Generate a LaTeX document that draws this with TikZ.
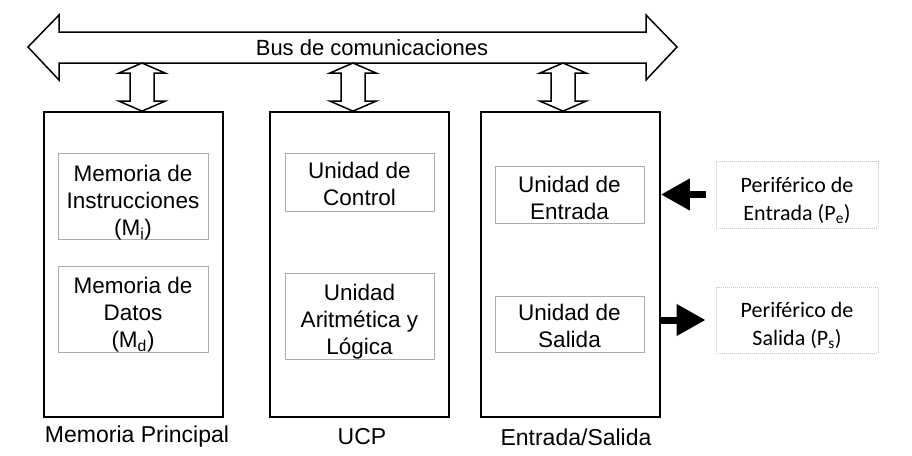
\documentclass[tikz,border=0pt]{standalone}
\usepackage{fontspec}
\setmainfont{Liberation Sans}
\newfontfamily\calib{Carlito}
\usetikzlibrary{arrows.meta,calc}
\begin{document}
\begin{tikzpicture}[x=1pt,y=-1pt,
 txt/.style={font=\fontsize{22.5}{27}\selectfont, align=center},
 lbl/.style={font=\fontsize{23}{27}\selectfont},
 mainbox/.style={draw, line width=1.7pt, minimum width=179pt, minimum height=305pt, inner sep=0pt},
 inbox/.style={draw=gray!65, line width=0.8pt, txt, inner xsep=0pt, inner ysep=0pt},
 perbox/.style={draw=gray!45, line width=0.8pt, dash pattern=on 1pt off 1pt, font=\calib\fontsize{22}{28}\selectfont, align=center, inner xsep=0pt, inner ysep=0pt, minimum width=162pt},
 vconn/.style={draw, line width=1.5pt, fill=white, line join=miter},
 bigarrow/.style={line width=7pt, -{Triangle[length=29pt,width=30pt]}}
]
\useasboundingbox (0,0) rectangle (912,455);
% bus
\draw[line width=1.5pt, line join=miter] (28,47) -- (59,15) -- (59,32) -- (646,32) -- (646,15) -- (677,47) -- (646,80) -- (646,63) -- (59,63) -- (59,80) -- cycle;
\node[font=\fontsize{22}{27}\selectfont] (bus) at (372,48) {Bus de comunicaciones};
% main boxes
\node[mainbox] (mp) at (133.5,264.5) {};
\node[mainbox] (ucp) at (359.5,264.5) {};
\node[mainbox] (es) at (570.5,264.5) {};
\node[lbl] (lmp) at (137,437) {Memoria Principal};
\node[lbl] (lucp) at (362,437) {UCP};
\node[lbl] (les) at (576,437) {Entrada/Salida};
% bus connectors
\coordinate (b1) at (142,63);
\coordinate (b2) at (353,63);
\coordinate (b3) at (563,63);
\foreach \b/\m in {b1/mp,b2/ucp,b3/es}{
 \draw[vconn] (\b) -- ++(23,10) -- ++(-11,0) -- ($(\b|-\m.north)+(12,-10)$) -- ++(11,0) -- (\b|-\m.north) -- ++(-23,-10) -- ++(11,0) -- ($(\b)+(-12,10)$) -- ++(-11,0) -- cycle;
}
% inner boxes
\node[inbox, minimum width=150pt, text height=82pt, text depth=4pt] (mi) at (133,196) {Memoria de\\Instrucciones\\(M\textsubscript{i})};
\node[inbox, minimum width=150pt, text height=81pt, text depth=5pt] (md) at (133,309) {Memoria de\\Datos\\(M\textsubscript{d})};
\node[inbox, minimum width=149pt, text height=52pt, text depth=6pt] (uc) at (359.5,182) {Unidad de\\Control};
\node[inbox, minimum width=149pt, text height=81pt, text depth=5pt] (alu) at (359.5,316) {Unidad\\Aritmética y\\Lógica};
\node[inbox, minimum width=149pt, text height=53pt, text depth=4pt] (ue) at (569.5,194.5) {Unidad de\\Entrada};
\node[inbox, minimum width=149pt, text height=51pt, text depth=5pt] (us) at (569.5,324) {Unidad de\\Salida};
% peripherals
\node[perbox, text height=59pt, text depth=8pt] (pe) at (797,194.5) {Periférico de\\Entrada (P\textsubscript{e})};
\node[perbox, text height=58pt, text depth=8pt] (ps) at (797,320) {Periférico de\\Salida (P\textsubscript{s})};
\draw[bigarrow] ([xshift=-10pt]pe.west) -- (es.east |- pe.west);
\draw[bigarrow] (es.east |- ps.west) -- ([xshift=-10pt]ps.west);
\end{tikzpicture}
\end{document}
